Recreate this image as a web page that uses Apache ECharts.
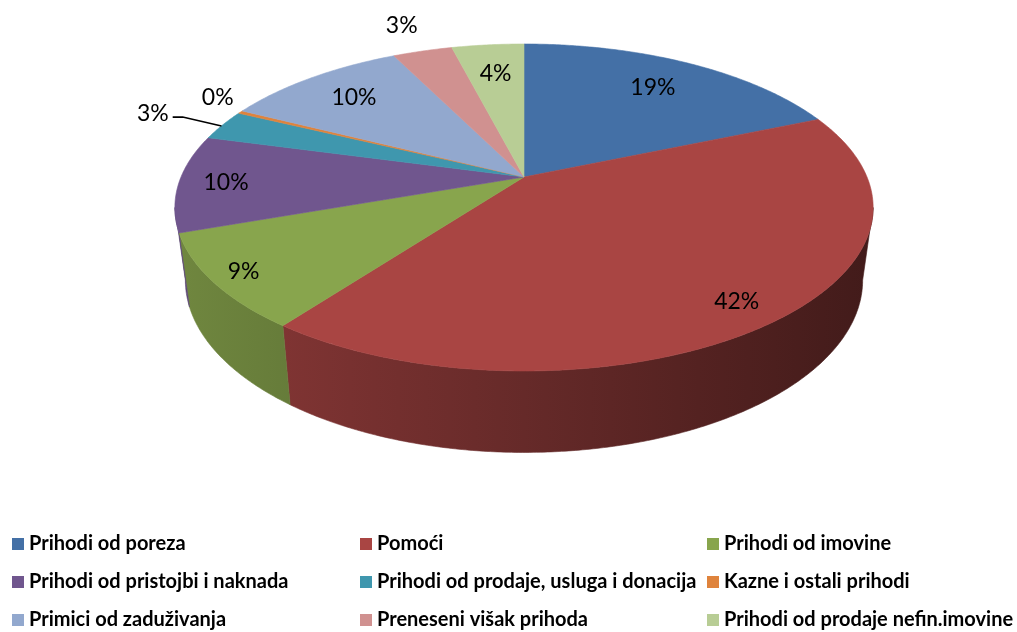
<!DOCTYPE html>
<html><head><meta charset="utf-8">
<script src="https://cdn.jsdelivr.net/npm/echarts@6/dist/echarts.min.js"></script>
<style>html,body{margin:0;padding:0;background:#fff}#chart{width:1017px;height:632px}</style>
</head><body><div id="chart"></div>
<script>
// ---- data ----
const categories = [
  'Prihodi od poreza',
  'Pomoći',
  'Prihodi od imovine',
  'Prihodi od pristojbi i naknada',
  'Prihodi od prodaje, usluga i donacija',
  'Kazne i ostali prihodi',
  'Primici od zaduživanja',
  'Preneseni višak prihoda',
  'Prihodi od prodaje nefin.imovine'
];
const shares = [18.6, 41.6, 9.4, 9.6, 3.0, 0.3, 10.2, 3.3, 4.0];
const colors = ['#4470A6', '#A94543', '#88A54D', '#70568E', '#3F97AE', '#DF833C', '#92A8CE', '#D09190', '#B8CD95'];

// ---- geometry (pseudo-3D perspective pie) ----
const G = { cx: 524, cy: 177, A: 343, B: 157.8, p: 0.1865, D: 71, s: 0.97, left: 175, right: 873 };
const total = shares.reduce((a, b) => a + b, 0);
const starts = []; { let acc = 0; shares.forEach(v => { starts.push(acc); acc += v; }); }

function topPt(th, r) {
  const u = r * Math.sin(th), v = -r * Math.cos(th); const d = 1 - G.p * v;
  return [G.cx + G.A * u / d, G.cy + G.B * v / d];
}
function botPt(th) {
  const u = Math.sin(th), v = -Math.cos(th); const d = 1 - G.p * v;
  return [G.cx + G.s * G.A * u / d, G.cy + (G.D + G.s * G.B * v) / d];
}
function arc(f, a, b) {
  const n = Math.max(2, Math.ceil(Math.abs(b - a) / (Math.PI / 360)) + 1); const pts = [];
  for (let i = 0; i < n; i++) pts.push(f(a + (b - a) * i / (n - 1)));
  return pts;
}
function shade(hex, f) {
  const n = parseInt(hex.slice(1), 16);
  return 'rgb(' + Math.round(((n >> 16) & 255) * f) + ',' + Math.round(((n >> 8) & 255) * f) + ',' + Math.round((n & 255) * f) + ')';
}
const measureCtx = document.createElement('canvas').getContext('2d');
const LABEL_FONT = '23px Lato';
function textW(t) { measureCtx.font = LABEL_FONT; return measureCtx.measureText(t).width; }

const visA = Math.acos(-G.p), visB = 2 * Math.PI - Math.acos(-G.p);

function renderItem(params, api) {
  const i = params.dataIndex;
  const val = api.value(0);
  const a0 = starts[i] / total * 2 * Math.PI;
  const a1 = a0 + val / total * 2 * Math.PI;
  const color = colors[i];
  const children = [];
  // side wall
  const s0 = Math.max(a0, visA), s1 = Math.min(a1, visB);
  if (s1 > s0) {
    const pts = arc(th => topPt(th, 1), s0, s1).concat(arc(botPt, s1, s0));
    const stops = [];
    for (let k = 0; k <= 4; k++) { const t = k / 4; stops.push({ offset: t, color: shade(color, 0.82 - 0.43 * t) }); }
    const grad = new echarts.graphic.LinearGradient(G.left, 0, G.right, 0, stops, true);
    children.push({ type: 'polygon', z2: 1, shape: { points: pts }, style: { fill: grad, stroke: grad, lineWidth: 0.6 } });
  }
  // top face
  const topPts = [[G.cx, G.cy]].concat(arc(th => topPt(th, 1), a0, a1));
  children.push({ type: 'polygon', z2: 2, shape: { points: topPts }, style: { fill: color, stroke: color, lineWidth: 0.6 } });
  // label
  const pct = val / total * 100;
  const txt = Math.round(pct) + '%';
  const mid = (a0 + a1) / 2;
  const um = Math.sin(mid), vm = -Math.cos(mid);
  let r;
  if (pct < 3.5) r = pct < 1 ? 1.13 : 1.25;
  else r = 0.82 + 0.07 * vm + 0.08 * Math.max(0, -um) * (vm + 1) / 2;
  const lp = topPt(pct < 1 ? mid + 0.05 : mid, r);
  children.push({ type: 'text', z2: 5, style: { text: txt, x: lp[0], y: lp[1], align: 'center', verticalAlign: 'middle', font: LABEL_FONT, fill: '#000' } });
  if (r > 1) {
    const ep = topPt(mid, 1);
    const dist = Math.hypot(ep[0] - lp[0], ep[1] - lp[1]);
    if (dist > 50) {
      const w = textW(txt);
      const sx = lp[0] + w / 2 + 4, sy = lp[1] + 4;
      children.push({ type: 'polyline', z2: 4, shape: { points: [[sx, sy], [sx + 10, sy], [ep[0] - 1, ep[1] + 1]] }, style: { stroke: '#000', lineWidth: 1.6, fill: null } });
    }
  }
  return { type: 'group', children: children };
}

const chart = echarts.init(document.getElementById('chart'), null, { renderer: 'canvas' });
const colX = [12, 360, 707];
const rowY = [534, 572, 610];
chart.setOption({
  animation: false,
  backgroundColor: '#fff',
  color: colors,
  legend: categories.map((name, k) => ({
    type: 'plain', orient: 'horizontal', left: colX[k % 3], top: rowY[Math.floor(k / 3)], padding: 0,
    itemWidth: 12, itemHeight: 12,
    icon: 'rect', selectedMode: false,
    data: [name],
    textStyle: { fontFamily: 'Lato', fontSize: 20, fontWeight: 'bold', color: '#000', lineHeight: 18 }
  })),
  series: [
    {
      type: 'pie', name: 'legendSource', radius: [0, 0], center: [-50, -50], silent: true,
      label: { show: false }, labelLine: { show: false },
      data: categories.map((c, i) => ({ name: c, value: shares[i] }))
    },
    {
      type: 'custom', name: 'pie3d', coordinateSystem: 'none', renderItem: renderItem,
      data: shares.map((v, i) => ({ name: categories[i], value: [v] }))
    }
  ]
});
</script>
</body></html>
